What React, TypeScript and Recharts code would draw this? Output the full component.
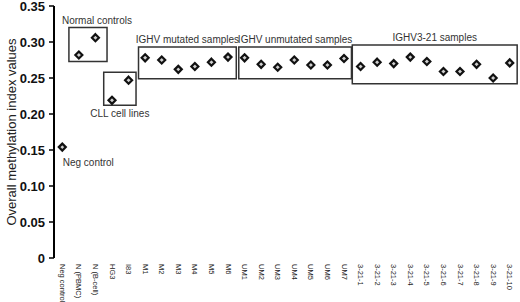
import React from 'react';
import { ComposedChart, Scatter, XAxis, YAxis, ReferenceArea, ReferenceDot, Label } from 'recharts';

const categories = [
  'Neg control', 'N (PBMC)', 'N (B-cell)', 'HG3', 'I83',
  'M1', 'M2', 'M3', 'M4', 'M5', 'M6',
  'UM1', 'UM2', 'UM3', 'UM4', 'UM5', 'UM6', 'UM7',
  '3-21-1', '3-21-2', '3-21-3', '3-21-4', '3-21-5', '3-21-6', '3-21-7', '3-21-8', '3-21-9', '3-21-10',
];

const methylation = [
  0.154, 0.282, 0.306, 0.219, 0.247,
  0.278, 0.275, 0.262, 0.266, 0.272, 0.279,
  0.278, 0.269, 0.265, 0.275, 0.268, 0.268, 0.277,
  0.266, 0.272, 0.270, 0.279, 0.273, 0.259, 0.259, 0.269, 0.250, 0.271,
];

const yTicks = [0, 0.05, 0.1, 0.15, 0.2, 0.25, 0.3, 0.35];

// group boxes: label, category range (x) and value range (y)
const groupLabels = ['Normal controls', 'CLL cell lines', 'IGHV mutated samples', 'IGHV unmutated samples', 'IGHV3-21 samples'];
const groupX1 = [0.9, 3.0, 5.1, 11.15, 18.0];
const groupX2 = [3.2, 4.95, 11.0, 17.95, 27.95];
const groupY1 = [0.273, 0.212, 0.249, 0.249, 0.242];
const groupY2 = [0.320, 0.258, 0.293, 0.293, 0.296];

const data = categories.map((name, i) => ({ name, x: i + 0.5, y: methylation[i] }));
const boundaryTicks = categories.map((_, i) => i).concat(categories.length);
const centerTicks = categories.map((_, i) => i + 0.5);

const font = '"Liberation Sans", Arial, sans-serif';

const Diamond = (props: any) => {
  const { cx, cy } = props;
  const r = 3.5;
  return (
    <polygon
      points={`${cx},${cy - r} ${cx + r},${cy} ${cx},${cy + r} ${cx - r},${cy}`}
      fill="#cfcfcf"
      stroke="#111"
      strokeWidth={2.2}
    />
  );
};

const CategoryTick = (props: any) => {
  const { x, y, index } = props;
  return (
    <text
      x={x}
      y={y}
      transform={`rotate(90, ${x}, ${y})`}
      textAnchor="start"
      dominantBaseline="central"
      fontSize={7.5}
      fontFamily={font}
      fill="#222"
    >
      {categories[index]}
    </text>
  );
};

const YTitle = (props: any) => {
  const { viewBox } = props;
  const cx = 11;
  const cy = viewBox.y + viewBox.height / 2;
  return (
    <text
      x={cx}
      y={cy}
      transform={`rotate(-90, ${cx}, ${cy})`}
      textAnchor="middle"
      dominantBaseline="central"
      fontSize={13}
      fontFamily={font}
      fill="#222"
    >
      Overall methylation index values
    </text>
  );
};

const App: React.FC = () => {
  const labelStyle = { fontSize: 10, fontFamily: font, fill: '#333' };
  return (
    <div style={{ position: 'absolute', left: 0, top: 0, width: 520, height: 302, background: '#fff' }}>
      <ComposedChart width={520} height={302} data={data} margin={{ top: 6, right: 2, left: 0, bottom: 0 }}>
        <XAxis
          xAxisId="b"
          type="number"
          dataKey="x"
          domain={[0, categories.length]}
          ticks={boundaryTicks}
          interval={0}
          height={0}
          tick={() => <g />}
          tickSize={4}
          axisLine={{ stroke: '#000', strokeWidth: 2 }}
          tickLine={{ stroke: '#000', strokeWidth: 1.5 }}
        />
        <XAxis
          xAxisId="c"
          type="number"
          dataKey="x"
          domain={[0, categories.length]}
          ticks={centerTicks}
          interval={0}
          height={44}
          axisLine={false}
          tickLine={false}
          tickSize={0}
          tickMargin={6}
          tick={<CategoryTick />}
        />
        <YAxis
          type="number"
          domain={[0, 0.35]}
          ticks={yTicks}
          interval={0}
          width={54}
          tickSize={5}
          tickMargin={4}
          axisLine={{ stroke: '#000', strokeWidth: 2 }}
          tickLine={{ stroke: '#000', strokeWidth: 1.5 }}
          tick={{ fontSize: 13, fontWeight: 'bold', fontFamily: font, fill: '#111' }}
          tickFormatter={(v: number) => (v === 0 ? '0' : v.toFixed(2))}
        >
          <Label content={<YTitle />} />
        </YAxis>
        {groupLabels.map((g, i) => (
          <ReferenceArea
            key={g}
            xAxisId="b"
            x1={groupX1[i]}
            x2={groupX2[i]}
            y1={groupY1[i]}
            y2={groupY2[i]}
            fill="none"
            fillOpacity={0}
            stroke="#333"
            strokeWidth={1.5}
            ifOverflow="visible"
          >
            <Label
              value={g}
              position={i === 1 ? 'bottom' : 'top'}
              offset={i === 1 ? 5 : 4}
              dx={i === 0 ? 9 : 0}
              style={labelStyle}
            />
          </ReferenceArea>
        ))}
        <ReferenceDot xAxisId="b" x={data[0].x} y={data[0].y} r={0} stroke="none" fill="none">
          <Label value="Neg control" position="bottom" offset={12} dx={26} style={labelStyle} />
        </ReferenceDot>
        <Scatter xAxisId="b" dataKey="y" shape={<Diamond />} isAnimationActive={false} />
      </ComposedChart>
    </div>
  );
};

export default App;
